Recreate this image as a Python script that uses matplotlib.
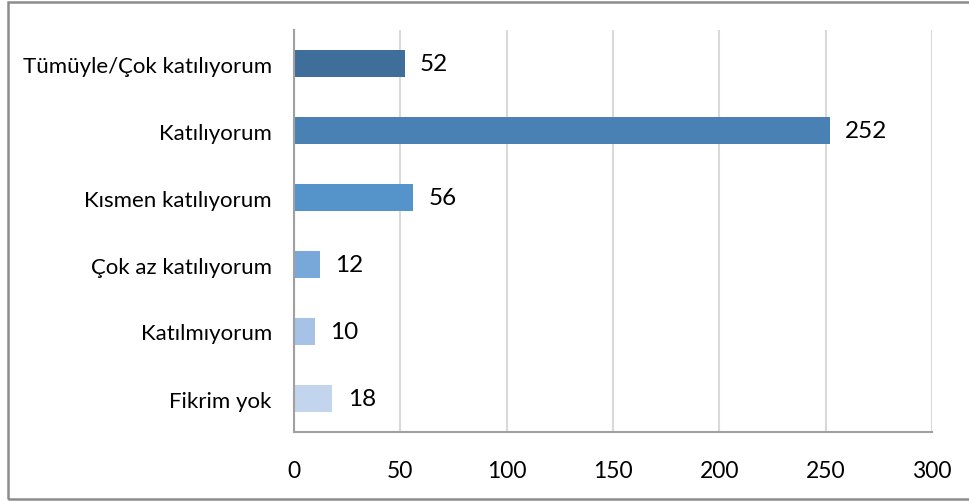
import matplotlib
matplotlib.use("Agg")
import matplotlib.pyplot as plt
from matplotlib.patches import Rectangle

categories = ["Tümüyle/Çok katılıyorum", "Katılıyorum", "Kısmen katılıyorum",
              "Çok az katılıyorum", "Katılmıyorum", "Fikrim yok"]
values = [52, 252, 56, 12, 10, 18]
colors = ["#3F6E9A", "#4A81B4", "#5593CB", "#78A7D9", "#A6C2E6", "#C3D5EC"]
xticks = [0, 50, 100, 150, 200, 250, 300]

plt.rcParams['font.family'] = ['Lato', 'DejaVu Sans']

fig = plt.figure(figsize=(9.70, 5.02), dpi=100)
ax = fig.add_axes([294/970, 1-433/502, (932-294)/970, (433-31)/502])

ypos = list(range(len(categories)))[::-1]
bars = ax.barh(ypos, values, height=0.4, color=colors, zorder=3)
for b, v in zip(bars, values):
    ax.annotate(str(v), (b.get_width(), b.get_y() + b.get_height()/2),
                xytext=(11, 0), textcoords="offset points",
                ha="left", va="center", fontsize=17.5, color="#000000")

ax.set_xlim(0, 300)
ax.set_ylim(-0.5, len(categories) - 0.5)
ax.set_xticks(xticks)
ax.set_xticklabels([str(t) for t in xticks], fontsize=16.5)
ax.set_yticks(ypos)
ax.set_yticklabels(categories, fontsize=16)
ax.tick_params(axis="x", length=0, pad=20)
ax.tick_params(axis="y", length=0, pad=16)
ax.grid(axis="x", color="#D9D9D9", linewidth=1.5, zorder=0)
for s in ["top", "right"]:
    ax.spines[s].set_visible(False)
for s in ["left", "bottom"]:
    ax.spines[s].set_color("#A0A0A0")
    ax.spines[s].set_linewidth(1.5)
    ax.spines[s].set_zorder(4)

fig.patches.append(Rectangle((8/970, 2/502), 1.0, 499/502 - 2/502,
                             transform=fig.transFigure, fill=False,
                             edgecolor="#8C8C8C", linewidth=1.8))

fig.savefig("out.png", dpi=100)
